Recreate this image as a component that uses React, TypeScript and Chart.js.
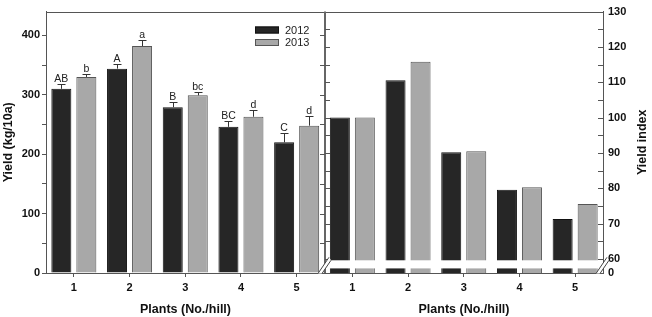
import React, { useEffect, useRef } from 'react';
import { Chart, registerables } from 'chart.js';

Chart.register(...registerables);

// ---- data ----
const PLANTS = ['1', '2', '3', '4', '5'];
const YEARS = ['2012', '2013'];
const YIELD_2012 = [310, 344, 279, 246, 220];
const YIELD_2013 = [330, 382, 299, 263, 248];
const ERR_2012 = [8, 8, 8, 10, 15];
const ERR_2013 = [5.5, 11, 6, 12, 17];
const LETTERS_2012 = ['AB', 'A', 'B', 'BC', 'C'];
const LETTERS_2013 = ['b', 'a', 'bc', 'd', 'd'];
const INDEX_2012 = [100, 110.6, 90.2, 79.6, 71.3];
const INDEX_2013 = [100, 115.8, 90.5, 80.3, 75.5];
const YIELD_TICKS = [0, 50, 100, 150, 200, 250, 300, 350, 400];
const INDEX_TICKS = [60, 65, 70, 75, 80, 85, 90, 95, 100, 105, 110, 115, 120, 125, 130];
const INDEX_AXIS_FLOOR = 56; // bottom of broken axis, shown as 0
const INDEX_BREAK = [57.3, 59.6];

const FONT = 'Arial, "Liberation Sans", sans-serif';
const DARK = '#262626';
const DARK_EDGE = '#111111';
const LIGHT = '#a8a8a8';
const LIGHT_EDGE = '#555555';
const AXIS = '#555555';

const decor = {
  id: 'decor',
  afterDatasetsDraw(chart: any) {
    const { ctx } = chart;
    const y = chart.scales.y;
    const groups: [number, number[], number[], string[]][] = [
      [0, YIELD_2012, ERR_2012, LETTERS_2012],
      [1, YIELD_2013, ERR_2013, LETTERS_2013],
    ];
    ctx.save();
    groups.forEach(([di, vals, errs, letters]) => {
      const meta = chart.getDatasetMeta(di);
      vals.forEach((v, i) => {
        const bar = meta.data[i];
        if (!bar) return;
        const x = Math.round(bar.x) + 0.5;
        const base = y.getPixelForValue(v);
        const top = Math.round(y.getPixelForValue(v + errs[i])) + 0.5;
        ctx.strokeStyle = '#333';
        ctx.lineWidth = 1;
        ctx.beginPath();
        ctx.moveTo(x, base);
        ctx.lineTo(x, top);
        ctx.moveTo(x - 4, top);
        ctx.lineTo(x + 4, top);
        ctx.stroke();
        ctx.fillStyle = '#222';
        ctx.font = `10.5px ${FONT}`;
        ctx.textAlign = 'center';
        ctx.textBaseline = 'alphabetic';
        ctx.fillText(letters[i], bar.x, top - 3);
      });
    });
    ctx.restore();
  },
  afterDraw(chart: any) {
    const { ctx, chartArea: ca } = chart;
    const y = chart.scales.y;
    const y2 = chart.scales.y2;
    const xs = chart.scales.x;
    const mid = Math.round((xs.getPixelForValue(4) + xs.getPixelForValue(5)) / 2);
    ctx.save();

    // top border
    ctx.strokeStyle = AXIS;
    ctx.lineWidth = 1;
    ctx.beginPath();
    ctx.moveTo(ca.left, Math.round(ca.top) + 0.5);
    ctx.lineTo(ca.right, Math.round(ca.top) + 0.5);
    ctx.stroke();

    // divider between panels
    ctx.strokeStyle = '#666';
    ctx.lineWidth = 2;
    ctx.beginPath();
    ctx.moveTo(mid, ca.top);
    ctx.lineTo(mid, ca.bottom);
    ctx.stroke();

    // tick marks on divider and inward ticks on right axis
    ctx.strokeStyle = AXIS;
    ctx.lineWidth = 1;
    ctx.beginPath();
    YIELD_TICKS.forEach((v) => {
      if (v === 0) return;
      const py = Math.round(y.getPixelForValue(v)) + 0.5;
      ctx.moveTo(mid - 5, py);
      ctx.lineTo(mid, py);
    });
    INDEX_TICKS.forEach((v) => {
      if (v === 130) return;
      const py = Math.round(y2.getPixelForValue(v)) + 0.5;
      ctx.moveTo(mid, py);
      ctx.lineTo(mid + 5, py);
      ctx.moveTo(ca.right - 5, py);
      ctx.lineTo(ca.right, py);
    });
    ctx.stroke();

    // axis break band in right panel
    const bt = y2.getPixelForValue(INDEX_BREAK[1]);
    const bb = y2.getPixelForValue(INDEX_BREAK[0]);
    ctx.fillStyle = '#fff';
    ctx.fillRect(mid + 1, bt, ca.right - mid - 1.5, bb - bt);

    // break marks on both axes of the right panel
    [mid, ca.right].forEach((ax) => {
      const a0 = [ax - 7, ca.bottom + 0.5];
      const a1 = [ax + 4, bt - 3];
      const b0 = [ax - 3, ca.bottom + 0.5];
      const b1 = [ax + 6, bt];
      ctx.fillStyle = '#fff';
      ctx.beginPath();
      ctx.moveTo(a0[0], a0[1]);
      ctx.lineTo(a1[0], a1[1]);
      ctx.lineTo(b1[0], b1[1]);
      ctx.lineTo(b0[0], b0[1]);
      ctx.closePath();
      ctx.fill();
      ctx.strokeStyle = '#444';
      ctx.lineWidth = 1;
      ctx.beginPath();
      ctx.moveTo(a0[0], a0[1]);
      ctx.lineTo(a1[0], a1[1]);
      ctx.moveTo(b0[0], b0[1]);
      ctx.lineTo(b1[0], b1[1]);
      ctx.stroke();
    });

    // legend
    const lx = mid - 70;
    [DARK, LIGHT].forEach((c, i) => {
      const ly = 26.5 + i * 12.5;
      ctx.fillStyle = c;
      ctx.fillRect(lx, ly, 24, 7);
      ctx.strokeStyle = i === 0 ? DARK_EDGE : LIGHT_EDGE;
      ctx.lineWidth = 1;
      ctx.strokeRect(lx + 0.5, ly + 0.5, 23, 6);
      ctx.fillStyle = '#222';
      ctx.font = `11px ${FONT}`;
      ctx.textAlign = 'left';
      ctx.textBaseline = 'middle';
      ctx.fillText(YEARS[i], lx + 30, ly + 4);
    });

    // axis titles
    ctx.fillStyle = '#111';
    ctx.font = `bold 12.5px ${FONT}`;
    ctx.textAlign = 'center';
    ctx.textBaseline = 'middle';
    ctx.fillText('Plants (No./hill)', (ca.left + mid) / 2, 310);
    ctx.fillText('Plants (No./hill)', (mid + ca.right) / 2, 310);
    ctx.translate(643, (ca.top + ca.bottom) / 2);
    ctx.rotate(-Math.PI / 2);
    ctx.fillText('Yield index', 0, 0);
    ctx.restore();
  },
};

export default function App() {
  const ref = useRef<HTMLCanvasElement>(null);
  useEffect(() => {
    const pad = PLANTS.map(() => null);
    const labels = [...PLANTS, ...PLANTS];
    const barCommon = {
      borderWidth: 1,
      skipNull: true,
      categoryPercentage: 0.898,
      barPercentage: 0.8,
    };
    const chart = new Chart(ref.current as HTMLCanvasElement, {
      type: 'bar',
      data: {
        labels,
        datasets: [
          { ...barCommon, label: YEARS[0], data: [...YIELD_2012, ...pad], yAxisID: 'y', backgroundColor: DARK, borderColor: DARK_EDGE },
          { ...barCommon, label: YEARS[1], data: [...YIELD_2013, ...pad], yAxisID: 'y', backgroundColor: LIGHT, borderColor: LIGHT_EDGE },
          { ...barCommon, label: YEARS[0] + ' index', data: [...pad, ...INDEX_2012], yAxisID: 'y2', backgroundColor: DARK, borderColor: DARK_EDGE },
          { ...barCommon, label: YEARS[1] + ' index', data: [...pad, ...INDEX_2013], yAxisID: 'y2', backgroundColor: LIGHT, borderColor: LIGHT_EDGE },
        ] as any,
      },
      options: {
        responsive: false,
        animation: false,
        layout: { padding: { top: 6, left: 0, right: 0, bottom: 0 } },
        plugins: { legend: { display: false }, tooltip: { enabled: false } },
        scales: {
          x: {
            grid: { offset: false, drawOnChartArea: false, tickLength: 4, color: AXIS },
            border: { color: AXIS },
            ticks: { color: '#111', font: { family: FONT, size: 11, weight: 'bold' }, padding: 4, maxRotation: 0, autoSkip: false },
            afterFit: (s: any) => { s.height = 44; },
          },
          y: {
            position: 'left',
            min: 0,
            max: 440,
            afterBuildTicks: (s: any) => { s.ticks = YIELD_TICKS.map((v) => ({ value: v })); },
            afterFit: (s: any) => { s.width = 46; },
            grid: { drawOnChartArea: false, tickLength: 4, color: AXIS },
            border: { color: AXIS },
            ticks: {
              color: '#111',
              font: { family: FONT, size: 11, weight: 'bold' },
              padding: 2,
              callback: (v: any) => (Number(v) % 100 === 0 ? String(v) : ''),
            },
            title: { display: true, text: 'Yield (kg/10a)', color: '#111', font: { family: FONT, size: 12.5, weight: 'bold' }, padding: { top: 1, bottom: 0 } },
          },
          y2: {
            position: 'right',
            min: INDEX_AXIS_FLOOR,
            max: 130,
            afterBuildTicks: (s: any) => {
              s.ticks = [INDEX_AXIS_FLOOR, ...INDEX_TICKS].map((v) => ({ value: v }));
            },
            afterFit: (s: any) => { s.width = 49; },
            grid: { display: false, drawTicks: false },
            border: { color: AXIS },
            ticks: {
              color: '#111',
              font: { family: FONT, size: 11, weight: 'bold' },
              padding: 5,
              callback: (v: any) => {
                const n = Number(v);
                if (n === INDEX_AXIS_FLOOR) return '0';
                return n % 10 === 0 ? String(n) : '';
              },
            },
          },
        },
      } as any,
      plugins: [decor],
    });
    return () => chart.destroy();
  }, []);
  return (
    <div style={{ position: 'fixed', left: 0, top: 0, width: 652, height: 317, background: '#fff' }}>
      <canvas ref={ref} width={652} height={317} style={{ display: 'block' }} />
    </div>
  );
}
